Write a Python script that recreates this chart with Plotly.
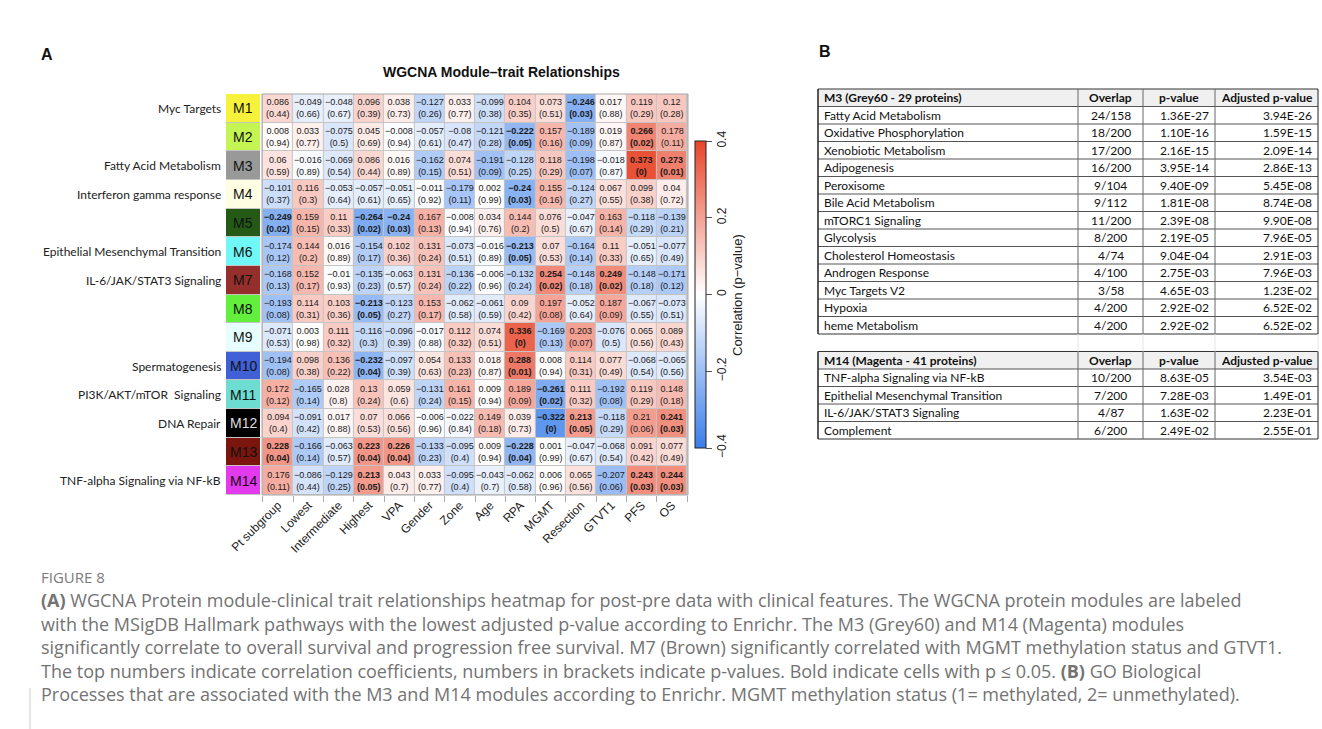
import plotly.graph_objects as go

W, H = 1322, 729
def fx(px): return px / W
def fy(py): return 1 - py / H

traits = ["Pt subgroup", "Lowest", "Intermediate", "Highest", "VPA", "Gender", "Zone",
          "Age", "RPA", "MGMT", "Resection", "GTVT1", "PFS", "OS"]
modules = [f"M{i}" for i in range(1, 15)]
pathways = ["Myc Targets", "", "Fatty Acid Metabolism", "Interferon gamma response", "",
            "Epithelial Mesenchymal Transition", "IL-6/JAK/STAT3 Signaling", "", "",
            "Spermatogenesis", "PI3K/AKT/mTOR  Signaling", "DNA Repair", "",
            "TNF-alpha Signaling via NF-kB"]
module_colors = ["#F6F23C", "#C4F553", "#999999", "#FFFEE3", "#245A16", "#70F8F8", "#952F2B",
                 "#62F03C", "#E6FEFE", "#3F60D6", "#6CDDD0", "#000000", "#7A160E", "#E43AEE"]

corr = [
    [0.086, -0.049, -0.048, 0.096, 0.038, -0.127, 0.033, -0.099, 0.104, 0.073, -0.246, 0.017, 0.119, 0.12],
    [0.008, 0.033, -0.075, 0.045, -0.008, -0.057, -0.08, -0.121, -0.222, 0.157, -0.189, 0.019, 0.266, 0.178],
    [0.06, -0.016, -0.069, 0.086, 0.016, -0.162, 0.074, -0.191, -0.128, 0.118, -0.198, -0.018, 0.373, 0.273],
    [-0.101, 0.116, -0.053, -0.057, -0.051, -0.011, -0.179, 0.002, -0.24, 0.155, -0.124, 0.067, 0.099, 0.04],
    [-0.249, 0.159, 0.11, -0.264, -0.24, 0.167, -0.008, 0.034, 0.144, 0.076, -0.047, 0.163, -0.118, -0.139],
    [-0.174, 0.144, 0.016, -0.154, 0.102, 0.131, -0.073, -0.016, -0.213, 0.07, -0.164, 0.11, -0.051, -0.077],
    [-0.168, 0.152, -0.01, -0.135, -0.063, 0.131, -0.136, -0.006, -0.132, 0.254, -0.148, 0.249, -0.148, -0.171],
    [-0.193, 0.114, 0.103, -0.213, -0.123, 0.153, -0.062, -0.061, 0.09, 0.197, -0.052, 0.187, -0.067, -0.073],
    [-0.071, 0.003, 0.111, -0.116, -0.096, -0.017, 0.112, 0.074, 0.336, -0.169, 0.203, -0.076, 0.065, 0.089],
    [-0.194, 0.098, 0.136, -0.232, -0.097, 0.054, 0.133, 0.018, 0.288, 0.008, 0.114, 0.077, -0.068, -0.065],
    [0.172, -0.165, 0.028, 0.13, 0.059, -0.131, 0.161, 0.009, 0.189, -0.261, 0.111, -0.192, 0.119, 0.148],
    [0.094, -0.091, 0.017, 0.07, 0.066, -0.006, -0.022, 0.149, 0.039, -0.322, 0.213, -0.118, 0.21, 0.241],
    [0.228, -0.166, -0.063, 0.223, 0.226, -0.133, -0.095, 0.009, -0.228, 0.001, -0.047, -0.068, 0.091, 0.077],
    [0.176, -0.086, -0.129, 0.213, 0.043, 0.033, -0.095, -0.043, -0.062, 0.006, 0.065, -0.207, 0.243, 0.244],
]
pval = [
    [0.44, 0.66, 0.67, 0.39, 0.73, 0.26, 0.77, 0.38, 0.35, 0.51, 0.03, 0.88, 0.29, 0.28],
    [0.94, 0.77, 0.5, 0.69, 0.94, 0.61, 0.47, 0.28, 0.05, 0.16, 0.09, 0.87, 0.02, 0.11],
    [0.59, 0.89, 0.54, 0.44, 0.89, 0.15, 0.51, 0.09, 0.25, 0.29, 0.07, 0.87, 0, 0.01],
    [0.37, 0.3, 0.64, 0.61, 0.65, 0.92, 0.11, 0.99, 0.03, 0.16, 0.27, 0.55, 0.38, 0.72],
    [0.02, 0.15, 0.33, 0.02, 0.03, 0.13, 0.94, 0.76, 0.2, 0.5, 0.67, 0.14, 0.29, 0.21],
    [0.12, 0.2, 0.89, 0.17, 0.36, 0.24, 0.51, 0.89, 0.05, 0.53, 0.14, 0.33, 0.65, 0.49],
    [0.13, 0.17, 0.93, 0.23, 0.57, 0.24, 0.22, 0.96, 0.24, 0.02, 0.18, 0.02, 0.18, 0.12],
    [0.08, 0.31, 0.36, 0.05, 0.27, 0.17, 0.58, 0.59, 0.42, 0.08, 0.64, 0.09, 0.55, 0.51],
    [0.53, 0.98, 0.32, 0.3, 0.39, 0.88, 0.32, 0.51, 0, 0.13, 0.07, 0.5, 0.56, 0.43],
    [0.08, 0.38, 0.22, 0.04, 0.39, 0.63, 0.23, 0.87, 0.01, 0.94, 0.31, 0.49, 0.54, 0.56],
    [0.12, 0.14, 0.8, 0.24, 0.6, 0.24, 0.15, 0.94, 0.09, 0.02, 0.32, 0.08, 0.29, 0.18],
    [0.4, 0.42, 0.88, 0.53, 0.56, 0.96, 0.84, 0.18, 0.73, 0, 0.05, 0.29, 0.06, 0.03],
    [0.04, 0.14, 0.57, 0.04, 0.04, 0.23, 0.4, 0.94, 0.04, 0.99, 0.67, 0.54, 0.42, 0.49],
    [0.11, 0.44, 0.25, 0.05, 0.7, 0.77, 0.4, 0.7, 0.58, 0.96, 0.56, 0.06, 0.03, 0.03],
]

# Table B data
table_names = ["Fatty Acid Metabolism", "Oxidative Phosphorylation", "Xenobiotic Metabolism",
               "Adipogenesis", "Peroxisome", "Bile Acid Metabolism", "mTORC1 Signaling",
               "Glycolysis", "Cholesterol Homeostasis", "Androgen Response", "Myc Targets V2",
               "Hypoxia", "heme Metabolism"]
table_overlap = ["24/158", "18/200", "17/200", "16/200", "9/104", "9/112", "11/200", "8/200",
                 "4/74", "4/100", "3/58", "4/200", "4/200"]
table_p = ["1.36E-27", "1.10E-16", "2.16E-15", "3.95E-14", "9.40E-09", "1.81E-08", "2.39E-08",
           "2.19E-05", "9.04E-04", "2.75E-03", "4.65E-03", "2.92E-02", "2.92E-02"]
table_adj = ["3.94E-26", "1.59E-15", "2.09E-14", "2.86E-13", "5.45E-08", "8.74E-08", "9.90E-08",
             "7.96E-05", "2.91E-03", "7.96E-03", "1.23E-02", "6.52E-02", "6.52E-02"]
table2_names = ["TNF-alpha Signaling via NF-kB", "Epithelial Mesenchymal Transition",
                "IL-6/JAK/STAT3 Signaling", "Complement"]
table2_overlap = ["10/200", "7/200", "4/87", "6/200"]
table2_p = ["8.63E-05", "7.28E-03", "1.63E-02", "2.49E-02"]
table2_adj = ["3.54E-03", "1.49E-01", "2.23E-01", "2.55E-01"]
header1 = ["M3 (Grey60 - 29 proteins)", "Overlap", "p-value", "Adjusted p-value"]
header2 = ["M14 (Magenta - 41 proteins)", "Overlap", "p-value", "Adjusted p-value"]

caption_lines = [
    "<b>(A)</b> WGCNA Protein module-clinical trait relationships heatmap for post-pre data with clinical features. The WGCNA protein modules are labeled",
    "with the MSigDB Hallmark pathways with the lowest adjusted p-value according to Enrichr. The M3 (Grey60) and M14 (Magenta) modules",
    "significantly correlate to overall survival and progression free survival. M7 (Brown) significantly correlated with MGMT methylation status and GTVT1.",
    "The top numbers indicate correlation coefficients, numbers in brackets indicate p-values. Bold indicate cells with p \u2264 0.05. <b>(B)</b> GO Biological",
    "Processes that are associated with the M3 and M14 modules according to Enrichr. MGMT methylation status (1= methylated, 2= unmethylated).",
]

def fmt(v):
    return f"{v:g}".replace("-", "\u2212")

def note(x, y, text, font, xanchor="center", xref="paper", yref="paper", **kw):
    return dict(x=x, y=y, xref=xref, yref=yref, text=text, showarrow=False,
                xanchor=xanchor, yanchor="middle", font=font, **kw)

fig = go.Figure()

# main heatmap
hx0, hx1, hy0, hy1 = 262, 688, 94, 495
fig.add_trace(go.Heatmap(
    z=corr, x=traits, y=modules, zmin=-0.4, zmax=0.4,
    colorscale=[[0, "#3A7EEA"], [0.5, "#FFFFFF"], [1, "#E8452A"]],
    xgap=1, ygap=1, hoverinfo="skip",
    colorbar=dict(
        x=fx(695), xanchor="left", xpad=0, thickness=11,
        y=fy((141 + 448) / 2), yanchor="middle", ypad=0,
        len=(448 - 141) / H, lenmode="fraction",
        outlinecolor="#222", outlinewidth=1,
        tickvals=[-0.4, -0.2, 0, 0.2, 0.4],
        ticktext=[fmt(v) for v in [-0.4, -0.2, 0, 0.2, 0.4]],
        ticks="outside", ticklen=6, tickcolor="#555", tickangle=-90,
        tickfont=dict(family="Liberation Sans", size=12, color="#222"),
    ),
))

# module colour boxes
n = len(modules)
mod_scale = []
for i, c in enumerate(module_colors):
    mod_scale.append([i / n, c])
    mod_scale.append([(i + 1) / n, c])
fig.add_trace(go.Heatmap(
    z=[[i] for i in range(n)], x=["mod"], y=modules, zmin=-0.5, zmax=n - 0.5,
    colorscale=mod_scale, showscale=False, ygap=1, xaxis="x2", yaxis="y",
    hoverinfo="skip",
))

cell_font = dict(family="Liberation Sans", size=9, color="#1a1a1a")
ann = []
for r, m in enumerate(modules):
    for c, t in enumerate(traits):
        v, p = corr[r][c], pval[r][c]
        txt = f"{fmt(v)}<br>({p:g})"
        if p <= 0.05:
            txt = f"<b>{fmt(v)}</b><br><b>({p:g})</b>"
        ann.append(note(t, m, txt, cell_font, xref="x", yref="y"))
    ann.append(note("mod", m, m, dict(family="Liberation Sans", size=14,
                                        color="#dddddd" if m == "M12" else "#111"),
                    xref="x2", yref="y"))
    if pathways[r]:
        ann.append(note(fx(223), m, pathways[r], dict(family="Lato", size=12, color="#222"),
                        xanchor="right", yref="y"))

# title, panel letters, colorbar title
ann.append(note(fx(501), fy(72), "<b>WGCNA Module\u2013trait Relationships</b>",
                dict(family="Liberation Sans", size=14, color="#111")))
ann.append(note(fx(737), fy(295), "Correlation (p\u2212value)",
                dict(family="Liberation Sans", size=13, color="#222"), textangle=-90))
ann.append(note(fx(39), fy(54), "<b>A</b>", dict(family="Liberation Sans", size=16, color="#111"),
                xanchor="left"))
ann.append(note(fx(817), fy(52), "<b>B</b>", dict(family="Liberation Sans", size=16, color="#111"),
                xanchor="left"))

# caption
ann.append(note(fx(39), fy(577), "FIGURE 8", dict(family="Open Sans", size=15, color="#7a7a7a"),
                xanchor="left"))
for i, line in enumerate(caption_lines):
    ann.append(note(fx(39), fy(600 + i * 23.6), line,
                    dict(family="Open Sans", size=18, color="#737373"), xanchor="left"))

# table B (drawn as text + grid lines)
shapes = []
col_edges = [818, 1078, 1143, 1215, 1318]
rh = 17.5
top1 = 89
blocks = [
    (top1, header1, [table_names, table_overlap, table_p, table_adj]),
    (top1 + rh * 15, header2, [table2_names, table2_overlap, table2_p, table2_adj]),
]
tfont = dict(family="Lato", size=12, color="#111")
for top, hdr, cols in blocks:
    nr = len(cols[0]) + 1
    bottom = top + rh * nr
    shapes.append(dict(type="rect", xref="paper", yref="paper", x0=fx(col_edges[0]),
                       x1=fx(col_edges[-1]), y0=fy(top + rh), y1=fy(top),
                       fillcolor="#F0F0F0", line=dict(width=0), layer="below"))
    for k in range(nr + 1):
        y = top + rh * k
        shapes.append(dict(type="line", xref="paper", yref="paper", x0=fx(col_edges[0]),
                           x1=fx(col_edges[-1]), y0=fy(y), y1=fy(y),
                           line=dict(color="#333" if k in (0, nr) else "#555", width=1)))
    for j, xe in enumerate(col_edges):
        shapes.append(dict(type="line", xref="paper", yref="paper", x0=fx(xe), x1=fx(xe),
                           y0=fy(bottom), y1=fy(top),
                           line=dict(color="#222" if j in (0, len(col_edges) - 1) else "#666",
                                     width=1.5 if j == 0 else 1)))
    hpos = [(col_edges[0] + 4, "left"), ((col_edges[1] + col_edges[2]) / 2, "center"),
            ((col_edges[2] + col_edges[3]) / 2, "center"), ((col_edges[3] + col_edges[4]) / 2, "center")]
    for (xp, al), h in zip(hpos, hdr):
        ann.append(note(fx(xp), fy(top + rh / 2), f"<b>{h}</b>", tfont, xanchor=al))
    cpos = [(col_edges[0] + 4, "left"), ((col_edges[1] + col_edges[2]) / 2, "center"),
            (col_edges[3] - 4, "right"), (col_edges[4] - 4, "right")]
    for i in range(nr - 1):
        yc = top + rh * (i + 1.5)
        for (xp, al), col in zip(cpos, cols):
            ann.append(note(fx(xp), fy(yc), col[i], tfont, xanchor=al))
# faint separators in the blank row
blank_top = top1 + rh * 14
for xe in col_edges[1:]:
    shapes.append(dict(type="line", xref="paper", yref="paper", x0=fx(xe), x1=fx(xe),
                       y0=fy(blank_top + rh), y1=fy(blank_top),
                       line=dict(color="#E4E4E4", width=1)))

shapes.append(dict(type="rect", xref="x domain", yref="y domain", x0=0, x1=1, y0=0, y1=1,
                   line=dict(color="#a8a8a8", width=1)))
shapes.append(dict(type="line", xref="paper", yref="paper", x0=fx(30), x1=fx(30),
                   y0=fy(688), y1=fy(729), line=dict(color="#cccccc", width=1)))

fig.update_layout(
    width=W, height=H, margin=dict(l=0, r=0, t=0, b=0, autoexpand=False),
    paper_bgcolor="white", plot_bgcolor="#c4c4c4",
    annotations=ann, shapes=shapes,
    xaxis=dict(domain=[fx(hx0), fx(hx1)], anchor="y", tickangle=-45, tickson="boundaries",
               ticks="outside", ticklen=6, tickcolor="#aaa", showgrid=False, zeroline=False,
               showline=False, automargin=False,
               tickfont=dict(family="Liberation Sans", size=12, color="#222")),
    xaxis2=dict(domain=[fx(226), fx(260)], anchor="y", showticklabels=False, showgrid=False,
                zeroline=False, showline=False, ticks="", automargin=False),
    yaxis=dict(domain=[fy(hy1), fy(hy0)], autorange="reversed", showticklabels=False,
               showgrid=False, zeroline=False, ticks="", automargin=False),
    showlegend=False,
)

fig.write_html("out.html")
